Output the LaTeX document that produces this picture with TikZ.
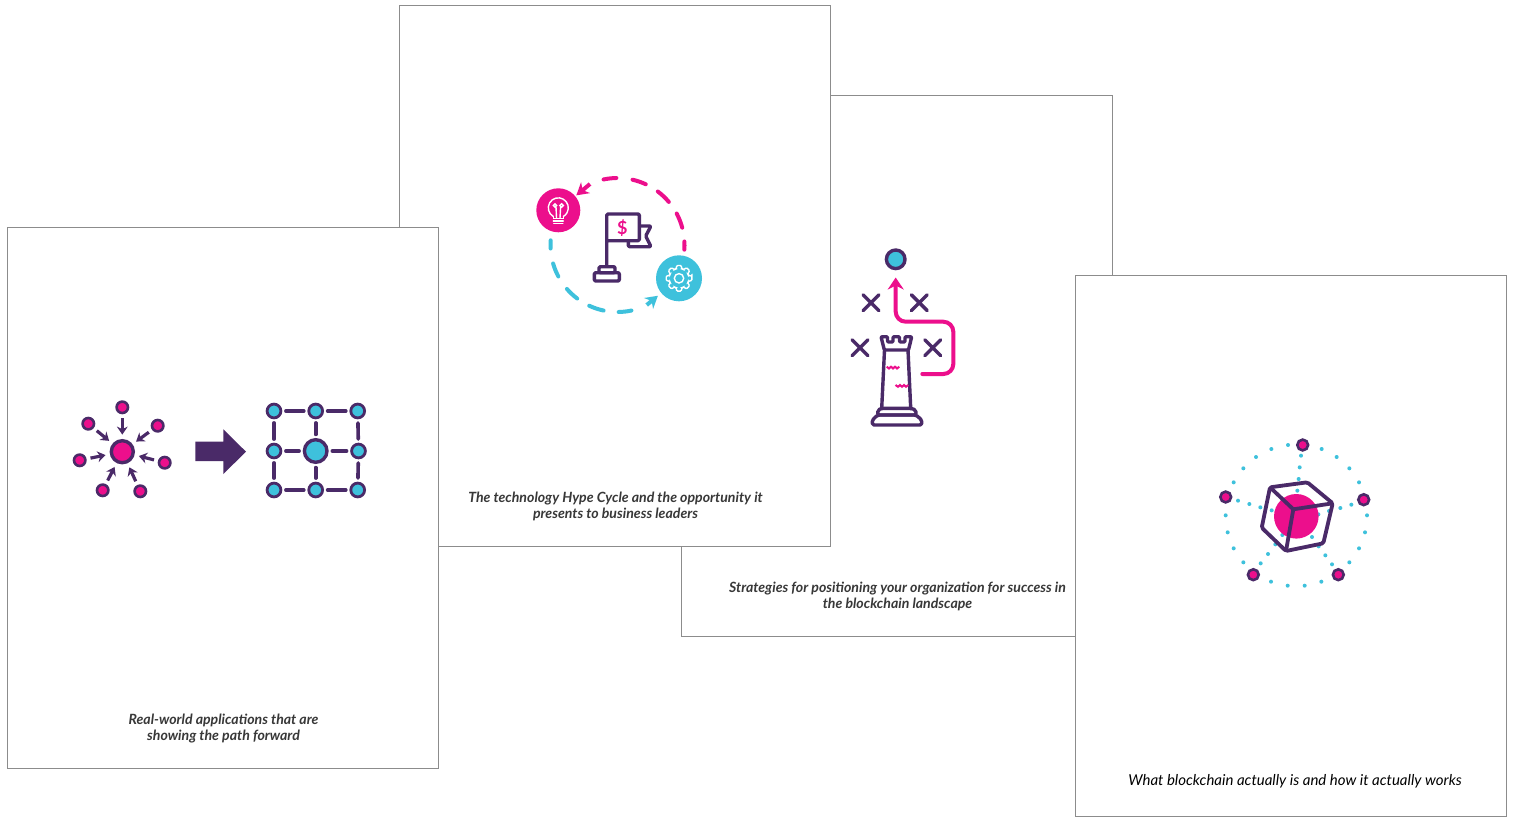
\documentclass[tikz,border=0pt]{standalone}
\usepackage{fontspec}
\setmainfont{Lato}
\usetikzlibrary{arrows.meta,shapes.misc}
\definecolor{hotpink}{HTML}{EC0F8C}
\definecolor{skyblue}{HTML}{3EC1DC}
\definecolor{plum}{HTML}{4A2A68}
\definecolor{captiongray}{HTML}{383838}
\begin{document}
\begin{tikzpicture}[x=0.5pt, y=-0.5pt,
                    panel node/.style={draw=black!45,fill=white,line width=0.5pt,minimum width=215.5pt,minimum height=270.5pt,inner sep=0pt},
                    caption node/.style={font=\fontsize{7.05pt}{8pt}\selectfont\bfseries\itshape,text=captiongray,align=center},
                    pink node/.style={circle,draw=plum,fill=hotpink,line width=1.7pt,inner sep=0pt,minimum size=#1},
                    blue node/.style={circle,draw=plum,fill=skyblue,line width=1.7pt,inner sep=0pt,minimum size=#1},
                    small pink/.style={pink node=#1,line width=1.3pt},
                    small blue/.style={blue node=#1,line width=1.4pt},
                    icon node/.style={circle,inner sep=0pt,fill=#1},
                    cross node/.style={cross out,draw=plum,line width=1.7pt,line cap=round,inner sep=0pt,minimum size=6.2pt},
                    spoke/.style={draw=plum,line width=1.6pt,shorten <=2pt,shorten >=2.2pt,-{Stealth[length=4pt,width=5.4pt]}},
                    grid edge/.style={draw=plum,line width=1.8pt,line cap=round,shorten <=1.8pt,shorten >=1.8pt},
                    purple line/.style={draw=plum,line width=1.7pt,line join=round},
                    pink dash/.style={draw=hotpink,line width=2pt,line cap=round},
                    blue dash/.style={draw=skyblue,line width=2pt,line cap=round},
                    icon line/.style={draw=white,line width=0.7pt,line cap=round}]
  \useasboundingbox (0,0) rectangle (1514,824);

  % the four sheets, back to front
  \node[panel node] (strategy) at (897,366) {};
  \node[panel node] (hype) at (615,276) {};
  \node[panel node] (apps) at (223,498) {};
  \node[panel node] (what) at (1291,546) {};

  \node[caption node] (stratext) at (897.5,596) {Strategies for positioning your organization for success in\\the blockchain landscape};
  \node[caption node] (hypetext) at (615.5,506) {The technology Hype Cycle and the opportunity it\\presents to business leaders};
  \node[caption node] (appstext) at (223.5,729) {Real-world applications that are\\showing the path forward};
  \node[caption node,font=\fontsize{7.5pt}{8pt}\selectfont\itshape,text=black] (whattext) at (1295,781) {What blockchain actually is and how it actually works};

  % scattered network
  \node[pink node=11pt] (hub) at (122.3,451.7) {};
  \foreach \name/\x/\y in {s1/122.3/407.3, s2/88.3/423.7, s3/157.7/425.7, s4/79.7/460.3,
                           s5/164.7/462.7, s6/102.7/490.3, s7/140.3/491.3} {
    \node[small pink=5.7pt] (\name) at (\x,\y) {};
    \path[spoke] (\name) -- (hub);
  }

  \fill[plum] (195.3,441.7) -- (223.3,441.7) -- (223.3,429.3) -- (246,451.7)
              -- (223.3,474) -- (223.3,461) -- (195.3,461) -- cycle;

  % ordered network
  \node[blue node=11.3pt] (c) at (315.7,451) {};
  \foreach \name/\x/\y in {g1/274/411, g2/315.7/411, g3/357.7/411, g4/274/451,
                           g6/358.5/451, g7/274/490, g8/315.7/490, g9/357.7/490}
    \node[small blue=6.9pt] (\name) at (\x,\y) {};
  \path[grid edge] (g1) edge (g2) (g2) edge (g3) (g4) edge (c) (c) edge (g6)
    (g7) edge (g8) (g8) edge (g9) (g1) edge (g4) (g4) edge (g7)
    (g2) edge (c) (c) edge (g8) (g3) edge (g6) (g6) edge (g9);

  % hype cycle
  \node[icon node=hotpink,minimum size=22pt] (bulb) at (558.3,210.3) {};
  \node[icon node=skyblue,minimum size=23pt] (gear) at (679,278.3) {};
  \foreach \a/\b in {-4/3, 15/28, 40/53, 65/77, 91/102}
    \draw[pink dash] ([shift={(617.5,245)}] -\a:67) arc[start angle=-\a,end angle=-\b,radius=67];
  \foreach \a/\b in {176/183, 196/208, 221/233, 245/258, 271/282}
    \draw[blue dash] ([shift={(617.5,245)}] -\a:67) arc[start angle=-\a,end angle=-\b,radius=67];
  \coordinate (pinktail) at (590,184);
  \coordinate (bluetail) at (646.7,305);
  \draw[pink dash,line cap=butt,shorten >=0.5pt,-{Stealth[length=6pt,width=7pt]}] (pinktail) -- (bulb);
  \draw[blue dash,line cap=butt,shorten >=2pt,-{Stealth[length=6pt,width=7pt]}] (bluetail) -- (gear);

  \draw[icon line] (553.3,216.5) arc[start angle=120,end angle=420,radius=10];
  \draw[icon line] (553.3,216.5) -- (553.3,218.3) -- (563.3,218.3) -- (563.3,216.5)
    (553.3,220.8) -- (563.3,220.8) (553.8,223.3) -- (562.8,223.3);
  \draw[icon line] (556.5,218) -- (556,207) (560,218) -- (560.6,207) (555,205.5) circle (1.7) (561.6,205.5) circle (1.7);

  \draw[icon line,rounded corners=0.5pt] ([shift={(679,278.3)}] -10:13) \foreach \t in {0,45,...,315} {
      -- ([shift={(679,278.3)}] \t-10:13) -- ([shift={(679,278.3)}] \t+10:13)
      -- ([shift={(679,278.3)}] \t+17:9.8) -- ([shift={(679,278.3)}] \t+28:9.8)
    } -- cycle;
  \draw[icon line] (679,278.3) circle (4.7);

  \draw[purple line,rounded corners=0.6pt] (606.7,266.7) -- (606.7,214) -- (639.3,214) -- (639.3,240.7) -- (606.7,240.7);
  \draw[purple line,rounded corners=0.6pt] (639.3,226) -- (651,226) -- (645.7,236) -- (651,246.7) -- (628.3,246.7) -- (628.3,240.7);
  \draw[purple line,rounded corners=0.6pt] (599,266.7) rectangle (615,272.7);
  \draw[purple line,rounded corners=0.6pt] (594.3,272.7) rectangle (619.3,281);
  \node[font=\fontsize{9pt}{9pt}\selectfont\bfseries,text=hotpink,inner sep=0pt] (dollar) at (622.3,228) {\$};

  % rook and route
  \node[blue node=9.3pt] (goal) at (895.7,259.3) {};
  \node[cross node] (x1) at (871,302.7) {};
  \node[cross node] (x2) at (919.3,302.7) {};
  \node[cross node] (x3) at (860,347.7) {};
  \node[cross node] (x4) at (932.7,347.7) {};
  \coordinate (routestart) at (922.3,374);
  \draw[draw=hotpink,line width=2pt,line cap=round,rounded corners=5pt,shorten >=3.6pt,
        -{Stealth[length=6pt,width=8pt]}]
    (routestart) -- (953.3,374) -- (953.3,321.7) -- (895.7,321.7) -- (goal);

  \draw[purple line,rounded corners=0.5pt] (884.3,350) -- (881,336.7) -- (887.5,336.7) -- (887.5,342) -- (893,342) -- (893,336.7)
    -- (899.5,336.7) -- (899.5,342) -- (905,342) -- (905,336.7) -- (911.7,336.7) -- (908.5,350) -- cycle;
  \draw[purple line] (884.5,350) -- (881.7,408.3) (908,350) -- (910.7,408.3);
  \draw[purple line,rounded corners=1pt] (881.7,408.3) -- (910.7,408.3) -- (916,410) -- (916,415) -- (877.7,415) -- (877.7,410) -- cycle;
  \draw[purple line,rounded corners=0.8pt] (877.7,415) -- (916,415) -- (921.7,420) -- (921.7,425) -- (872.3,425) -- (872.3,420) -- cycle;
  \draw[draw=hotpink,line width=1pt] (886.7,366.7) -- (889,368.5) -- (891,366.7) -- (893,368.5) -- (895,366.7) -- (897,368.5) -- (899.3,366.7);
  \draw[draw=hotpink,line width=1pt] (895.5,385) -- (898,386.8) -- (900,385) -- (902,386.8) -- (904,385) -- (906,386.8) -- (908.3,385);

  % block and chain
  \foreach \x/\y in {234/45,184/57,138/81,100/115,71/157,47/256,53/307,71/355,100/397,183/455,233/467,
                     284/467,334/455,418/397,447/355,465/307,471/256,447/157,418/115,380/81,335/57,
                     273/77,269/112,266/147,262/182,84/212,118/222,151/232,185/241,424/224,391/234,
                     357/243,325/253,152/400,174/372,196/343,217/315,366/403,346/376,326/349,306/321}
    \fill[skyblue] ({1210+\x/3},{430+\y/3}) circle (2);
  \fill[hotpink] (1296.3,516.3) circle (22.3);
  \node[small pink=5.4pt] (n1) at (1302.7,445) {};
  \node[small pink=5.4pt] (n2) at (1225.7,497) {};
  \node[small pink=5.4pt] (n3) at (1363.7,499.7) {};
  \node[small pink=5.4pt] (n4) at (1253.3,574.7) {};
  \node[small pink=5.4pt] (n5) at (1338.3,574.7) {};
  \draw[purple line,line width=1.9pt,rounded corners=0.8pt] (1270,487.3) -- (1307.3,482.3) -- (1332.7,503.3)
    -- (1323.3,543.3) -- (1286,551) -- (1261.7,527.7) -- cycle;
  \draw[purple line,line width=1.9pt] (1270,487.3) -- (1293.3,509.3) -- (1332.7,503.3) (1293.3,509.3) -- (1286,551);
\end{tikzpicture}
\end{document}
